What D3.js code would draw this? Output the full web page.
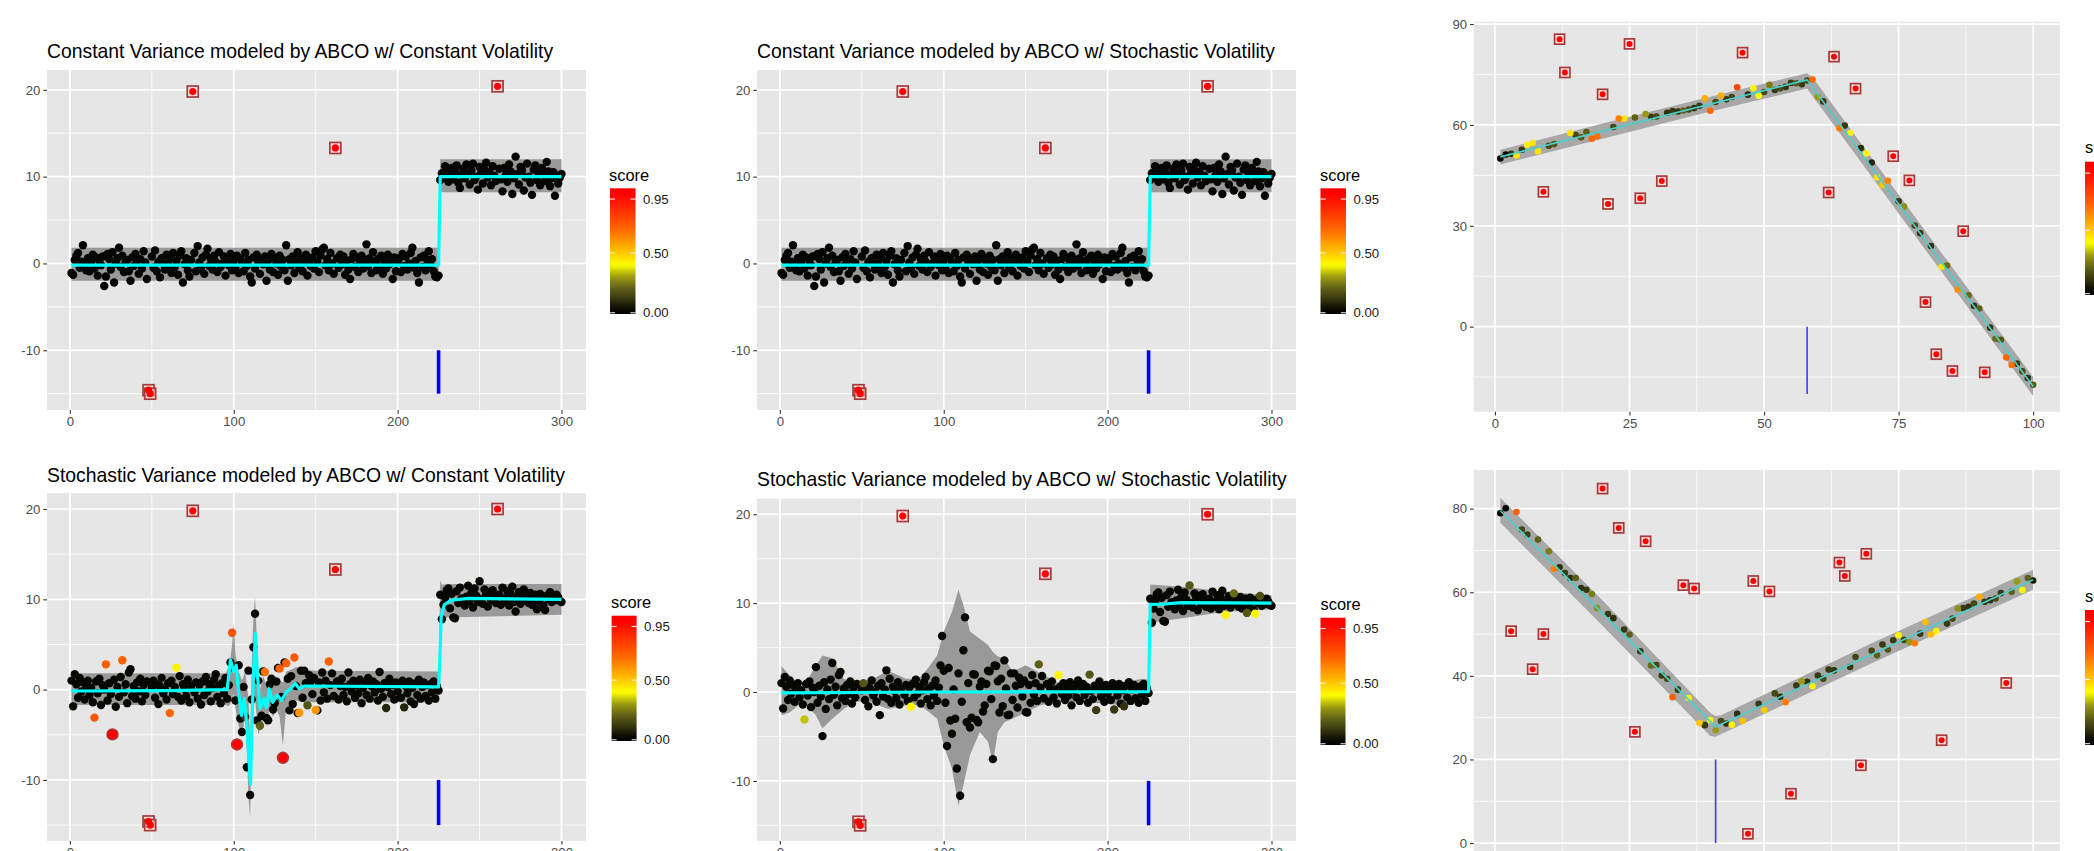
<!DOCTYPE html>
<html>
<head>
<meta charset="utf-8">
<script src="https://cdn.jsdelivr.net/npm/d3@7"></script>
<style>
  body { margin: 0; background: #fff; }
  svg { display: block; font-family: "Liberation Sans", Arial, Helvetica, sans-serif; }
</style>
</head>
<body>
<div id="main"></div>
<script>
// ---------- data: step series (x = 1..300) ----------
// constant variance series (top row)
const yConst = [
  -1.1, -1.3, 0.4, 0.9, 1.2, -0.5, 0.2, 2.1, -0.3, -0.8, 0.6, -0.9, 0.1, 1.0, -0.6, 0.7, -1.4, 0.3, -0.2, 0.8,
  -2.6, -1.5, 1.1, 0.5, -0.7, 1.3, -2.2, 0.0, 0.6, 1.8, -0.4, 0.9, -1.0, 0.2, 0.4, -0.9, -2.0, 0.7, -0.3, 1.1,
  0.3, -1.2, 0.5, -0.6, 1.4, 0.1, -1.8, -14.6, -15.0, 0.8, -0.5, 1.5, -0.9, 0.2, -1.6, 0.6, 0.0, -0.7, 1.0, -0.2,
  0.5, -1.1, 1.2, -0.4, 0.3, -1.3, 0.9, 1.4, -2.2, -0.1, 0.6, -0.8, -1.5, 0.4, 19.8, 1.2, -0.9, 2.0, 0.1, -0.6,
  0.7, -1.2, 1.0, 1.7, -0.3, 0.5, -0.7, 0.9, 0.2, -1.0, 1.3, -0.4, 0.0, 0.8, -1.4, 0.4, -0.2, 1.1, -0.8, 0.3,
  -0.5, 0.9, -1.1, 0.6, 0.1, -0.9, 1.2, -0.3, 0.4, -1.5, -2.2, 0.7, -0.6, 1.0, 0.2, -1.2, 0.5, -0.1, 0.8, -2.0,
  0.3, -0.7, 1.1, -1.0, 0.6, 0.0, -1.3, 0.9, -0.4, 0.4, -0.8, 2.1, -2.0, 0.5, -0.2, 0.8, -1.1, 0.2, 1.3, -0.5,
  0.6, -0.9, 0.1, 1.0, -1.4, 0.4, -0.3, 0.7, -0.6, 1.4, 0.2, -1.0, 0.9, 1.6, 1.8, -0.2, 0.5, -0.8, 1.2, 0.0,
  -1.2, 13.3, 0.6, -0.5, 1.0, -0.1, 0.8, -1.3, 0.3, -0.7, -1.8, 0.5, 1.1, -0.4, 0.7, -1.0, 0.2, 0.9, -0.6, 0.4,
  2.2, -0.3, 0.6, -1.1, 1.3, 0.1, -0.8, 0.5, -0.4, 0.9, -1.2, 0.3, -0.6, 1.0, -0.1, 0.4, -1.8, 0.7, -0.9, 0.2,
  0.6, -1.0, 1.1, -0.3, 0.8, -0.7, 0.0, 1.2, 1.8, -0.5, 0.3, -1.1, -2.2, 0.7, -0.4, 0.9, -0.8, 0.4, 1.4, -0.2,
  0.5, -0.9, -1.5, -1.6, -1.4, 9.6, 10.4, 9.9, 11.2, 10.8, 9.4, 10.1, 11.0, 9.7, 10.6, 11.3, 9.3, 8.7, 10.2, 10.9,
  9.8, 11.4, 10.3, 9.1, 10.7, 11.5, 9.6, 10.0, 8.5, 11.1, 10.4, 9.2, 10.8, 11.6, 9.9, 10.5, 9.0, 11.2, 10.1, 9.5,
  20.4, 10.9, 9.7, 8.3, 11.0, 10.2, 9.4, 11.4, 10.6, 8.0, 9.8, 12.3, 10.3, 9.1, 11.1, 10.7, 8.4, 9.9, 11.5, 10.0,
  9.3, 7.9, 10.8, 11.3, 9.6, 10.4, 9.0, 11.0, 10.2, 9.5, 11.7, 10.6, 8.9, 9.8, 10.5, 7.8, 10.1, 9.2, 9.9, 10.3
];
// stochastic variance series (bottom row)
const yStoch = [
  1.0, -1.85, 1.7, 0.6, -0.9, 1.3, -0.2, 0.8, -1.1, 0.4, 1.0, -0.6, 0.2, -1.4, -3.1, 0.9, -0.4, 1.2, -1.7, 0.5,
  0.0, 2.8, -1.2, 0.7, -0.5, -4.96, 1.1, -1.9, 0.3, -0.8, 1.4, 3.26, -0.3, 0.6, -1.5, 1.9, 2.26, -0.7, 0.4, -1.0,
  0.8, -0.2, 1.2, -1.3, 0.5, -0.6, 0.9, -14.6, -15.0, 0.2, 1.0, -0.9, 0.6, -1.6, 0.4, 1.3, -0.4, 0.0, -1.1, 0.7,
  -2.6, 1.0, -0.5, 0.3, 2.44, -0.8, 1.5, -1.2, 0.6, 0.1, -0.7, 1.1, -1.4, 0.4, 19.8, -0.3, 0.8, -1.0, 0.5, -1.65,
  0.9, -0.6, 1.4, -0.2, 0.6, -1.3, 0.2, 1.1, 1.7, -0.8, 0.4, -1.5, 0.7, -0.4, 1.3, -1.0, 0.5, 3.0, 6.3, 2.4,
  -1.2, -6.07, 2.7, -3.2, -4.7, 0.3, -3.0, -8.6, 2.1, -11.67, -1.1, 4.7, 8.4, -3.4, 1.0, -4.0, -2.9, 2.0, 1.96, -3.15,
  -3.4, 0.6, 1.2, -2.2, -1.5, 0.9, 2.4, 2.33, -0.8, -7.55, 3.0, 2.93, 1.2, -2.3, 1.5, -1.6, 3.56, 0.4, -2.6, -2.55,
  2.1, -0.9, 2.1, 0.7, -1.74, 1.6, 0.9, -0.5, 1.3, -2.26, -2.3, 0.8, -1.2, 1.9, -0.3, 1.0, -1.0, 3.11, 0.5, 1.8,
  -0.7, 13.3, 0.9, -1.1, 0.4, 1.2, -0.6, 0.3, -1.3, 1.9, 0.6, -0.2, 1.0, -0.9, 0.5, -0.4, 1.1, -1.5, 0.2, 0.8,
  -0.6, 1.3, -1.0, 0.4, 0.9, -0.3, 0.6, -1.2, 1.96, 0.1, -0.8, 0.7, -2.04, 0.3, 1.2, -0.5, 0.5, -1.1, 0.8, -0.2,
  0.6, -0.9, 1.0, -1.96, 0.4, -0.4, 0.9, -1.3, 0.2, -1.6, 0.7, -0.6, 1.1, -1.0, 0.3, 0.8, -0.7, 0.5, -1.2, 0.6,
  -0.3, 0.9, -1.0, 0.4, -0.1, 10.5, 7.8, 9.4, 10.2, 11.0, 11.2, 9.0, 10.6, 8.0, 7.9, 10.9, 9.6, 11.3, 10.1, 9.9,
  9.3, 10.3, 11.5, 9.8, 10.7, 9.1, 11.2, 10.4, 9.7, 12.0, 10.0, 9.5, 11.1, 10.6, 9.2, 10.8, 9.9, 11.0, 10.3, 9.6,
  20.0, 10.5, 9.4, 11.3, 10.1, 9.8, 10.9, 9.3, 10.6, 11.4, 9.7, 8.65, 10.2, 10.8, 9.5, 10.4, 11.1, 9.9, 10.3, 9.6,
  10.7, 9.4, 10.1, 10.5, 8.9, 9.8, 10.6, 10.2, 9.3, 8.8, 10.4, 10.0, 10.8, 9.7, 10.3, 9.9, 10.5, 10.2, 9.8, 9.7
];
const outStep = [48, 49, 75, 162, 261];
const cpStep = 225;

// scores that are not ~0, stochastic variance / constant volatility model
const scoreCVx = [15, 22, 26, 32, 61, 65, 99, 102, 107, 116, 119, 128, 130, 132, 137, 140, 145, 150, 158, 193, 204];
const scoreCVv = [0.74, 0.72, 0.95, 0.72, 0.7, 0.42, 0.76, 0.95, 0.12, 0.2, 0.68, 0.72, 0.95, 0.72, 0.74, 0.6, 0.18, 0.6, 0.72, 0.08, 0.08];
const ringCV = [26, 102, 130];
// stochastic variance / stochastic volatility model
const scoreSVx = [15, 51, 80, 158, 170, 189, 193, 204, 210, 250, 272, 277, 285, 290, 293];
const scoreSVv = [0.34, 0.18, 0.42, 0.2, 0.42, 0.18, 0.12, 0.12, 0.1, 0.18, 0.42, 0.22, 0.18, 0.42, 0.16];

// fitted lines and ribbons
const fitConstX = [1, 225, 226, 300];
const fitConstY = [-0.2, -0.2, 10.0, 10.0];
const bandConstX = [1, 225, 226, 300];
const bandConstLo = [-2.0, -2.0, 8.2, 8.2];
const bandConstHi = [1.8, 1.8, 12.0, 12.0];

const fitCVx = [1, 60, 96, 98, 100, 101.5, 103, 104.7, 106.4, 108, 110.2, 111.8, 113.2, 114.5, 116, 118.4, 120, 121.6,
  123.8, 126.5, 129.2, 132, 134.7, 137.4, 140, 142.8, 225, 225.8, 226.6, 228.5, 232.6, 243.5, 300];
const fitCVy = [-0.15, -0.1, 0.0, 3.3, 2.0, 2.7, -0.3, -2.85, -1.0, -4.0, -10.5, 0.5, 6.2, 1.6, -2.1, -1.0, -2.0, 0.1,
  -1.4, -0.6, -1.2, -0.3, 0.1, 0.7, 0.1, 0.4, 0.3, 3.4, 8.1, 9.4, 9.9, 10.1, 10.0];
const bandCVx = [1, 95, 97, 98, 99, 100, 101, 103, 105, 107, 108, 109, 110, 111, 112, 113, 114, 115, 116, 118,
  120, 122, 124, 126, 128, 130, 132, 135, 138, 142, 150, 225, 226, 227, 230, 300];
const bandCVlo = [-1.7, -1.7, -1.8, -1.5, -1.0, -0.5, -2.0, -4.0, -5.0, -3.0, -7.0, -12.0, -14.2, -5.0, -2.0, -1.0, -3.0, -5.0, -4.5, -3.5,
  -4.0, -2.0, -3.0, -2.2, -3.0, -6.2, -2.0, -1.6, -1.2, -1.4, -1.4, -1.4, 6.0, 7.3, 8.0, 8.3];
const bandCVhi = [1.8, 1.8, 2.5, 3.5, 5.0, 7.4, 4.0, 2.0, 1.0, 2.0, 0.5, -1.0, -6.0, 3.0, 8.0, 10.3, 6.0, 2.0, 0.0, 1.5,
  0.5, 1.8, 0.5, 1.2, 1.0, 0.8, 2.0, 2.2, 2.5, 2.2, 2.1, 2.0, 12.1, 11.6, 11.7, 11.7];

const fitSVx = [1, 100, 225, 226, 235, 245, 300];
const fitSVy = [-0.1, 0.0, 0.05, 9.85, 9.9, 10.05, 10.0];
const bandSVx = [1, 6, 14, 22, 26, 32, 39, 46, 55, 66, 77, 85, 90, 96, 100, 105, 109, 112, 116, 122,
  127, 130, 133, 137, 142, 150, 159, 169, 183, 197, 210, 221, 225, 226, 250, 270, 300];
const bandSVlo = [-2.6, -2.3, -1.1, -2.6, -4.1, -3.0, -1.9, -1.1, -1.1, -1.9, -1.5, -1.5, -2.1, -3.0, -6.0, -8.6, -12.8, -10.5, -7.1, -4.5,
  -5.6, -8.0, -4.5, -3.4, -3.0, -2.3, -1.5, -1.1, -1.1, -1.3, -1.5, -1.3, -1.2, 7.8, 8.4, 9.0, 9.3];
const bandSVhi = [2.9, 1.9, 0.4, 3.0, 4.1, 3.8, 1.5, 0.9, 1.3, 2.4, 1.5, 1.5, 2.6, 4.1, 6.8, 9.0, 11.5, 9.8, 6.8, 6.0,
  5.3, 4.5, 4.0, 3.8, 2.3, 3.0, 2.1, 1.1, 0.75, 1.1, 1.1, 1.5, 1.4, 12.1, 11.8, 11.3, 10.9];

// ---------- data: broken-line series (x = 1..100) ----------
const yLineA = [
  50.0, 51.2, 51.4, 50.9, 52.6, 54.1, 54.6, 52.2, 40.1, 53.8, 54.3, 85.5, 75.6, 57.6, 57.0, 56.3, 57.9, 55.9, 56.6, 69.1,
  36.5, 59.4, 61.9, 61.9, 84.1, 62.2, 38.2, 63.2, 62.4, 62.5, 43.3, 63.6, 64.1, 64.0, 64.3, 64.6, 65.0, 65.7, 67.9, 64.2,
  66.8, 68.7, 67.6, 68.3, 71.2, 81.5, 69.0, 70.9, 68.7, 69.8, 71.9, 70.4, 70.9, 71.3, 72.5, 72.4, 72.1, 73.2, 73.5, 68.3,
  67.0, 39.9, 80.3, 59.0, 59.8, 57.6, 70.8, 53.1, 51.5, 48.8, 44.4, 42.1, 43.4, 50.7, 37.3, 35.7, 43.5, 30.1, 27.8, 7.3,
  24.0, -8.2, 17.8, 18.2, -13.2, 11.0, 28.4, 9.3, 6.2, 5.4, -13.6, -0.3, -3.6, -3.9, -9.2, -11.4, -11.0, -13.3, -15.3, -17.3
];
const scoreLineA = [
  0.0, 0.02, 0.1, 0.45, 0.12, 0.42, 0.45, 0.45, 1, 0.15, 0.18, 1, 1, 0.45, 0.15, 0.18, 0.2, 0.7, 0.68, 1,
  1, 0.15, 0.65, 0.45, 1, 0.2, 1, 0.3, 0.12, 0.15, 1, 0.1, 0.12, 0.1, 0.2, 0.15, 0.1, 0.12, 0.55, 0.7,
  0.15, 0.55, 0.12, 0.15, 0.8, 1, 0.1, 0.42, 0.4, 0.15, 0.25, 0.12, 0.15, 0.1, 0.12, 0.18, 0.12, 0.15, 0.7, 0.3,
  0.12, 1, 1, 0.65, 0.12, 0.42, 1, 0.1, 0.42, 0.08, 0.45, 0.5, 0.65, 1, 0.12, 0.28, 1, 0.15, 0.12, 1,
  0.1, 1, 0.45, 0.22, 1, 0.62, 1, 0.22, 0.1, 0.2, 1, 0.12, 0.22, 0.18, 0.7, 0.68, 0.12, 0.15, 0.1, 0.2
];
const outLineA = [9, 12, 13, 20, 21, 25, 27, 31, 46, 62, 63, 67, 74, 77, 80, 82, 85, 87, 91];
const fitAx = [1, 58, 100];
const fitAy = [50.5, 73.4, -17.8];
const bandAx = [1, 20, 40, 58, 59, 80, 100];
const bandAlo = [48.2, 55.9, 64.0, 70.8, 68.6, 22.8, -20.6];
const bandAhi = [52.6, 60.4, 68.4, 75.4, 74.2, 28.4, -15.0];
const cpA = 58;

const yLineB = [
  78.9, 80.1, 50.7, 79.2, 75.0, 73.8, 41.6, 72.6, 50.0, 69.8, 65.6, 66.0, 64.6, 63.4, 63.4, 61.0, 60.6, 59.6, 56.2, 84.8,
  54.8, 53.8, 75.4, 51.1, 49.9, 26.6, 45.9, 72.2, 42.5, 42.6, 40.1, 39.3, 34.9, 36.7, 61.7, 34.7, 60.9, 28.7, 28.2, 29.4,
  27.0, 29.2, 28.6, 28.3, 30.9, 29.2, 2.2, 62.7, 33.3, 31.8, 60.2, 35.8, 35.0, 33.7, 11.8, 37.7, 38.7, 38.6, 37.5, 40.1,
  39.3, 41.5, 41.3, 67.1, 63.9, 42.1, 44.5, 18.6, 69.2, 46.0, 44.9, 47.5, 46.3, 48.5, 49.7, 48.6, 48.1, 47.8, 50.1, 52.9,
  49.9, 50.7, 24.6, 52.5, 53.7, 56.1, 56.2, 56.5, 57.3, 58.9, 57.7, 58.1, 58.5, 59.8, 38.3, 60.1, 62.6, 60.5, 63.4, 62.8
];
const scoreLineB = [
  0.0, 0.0, 1, 0.72, 0.15, 0.12, 1, 0.2, 1, 0.25, 0.65, 0.1, 0.12, 0.1, 0.2, 0.1, 0.12, 0.25, 0.28, 1,
  0.12, 0.1, 1, 0.12, 0.2, 1, 0.12, 1, 0.22, 0.15, 0.12, 0.15, 0.72, 0.12, 1, 0.42, 1, 0.5, 0.12, 0.42,
  0.3, 0.15, 0.1, 0.42, 0.1, 0.52, 1, 1, 0.12, 0.5, 1, 0.15, 0.1, 0.65, 1, 0.12, 0.3, 0.1, 0.42, 0.12,
  0.15, 0.12, 0.1, 1, 1, 0.12, 0.15, 1, 1, 0.15, 0.2, 0.12, 0.18, 0.12, 0.42, 0.15, 0.3, 0.65, 0.12, 0.52,
  0.52, 0.42, 1, 0.12, 0.15, 0.28, 0.12, 0.1, 0.15, 0.55, 0.12, 0.1, 0.15, 0.12, 1, 0.2, 0.3, 0.42, 0.2, 0.05
];
const outLineB = [3, 7, 9, 20, 23, 26, 28, 35, 37, 47, 48, 51, 55, 64, 65, 68, 69, 83, 95];
const fitBx = [1, 41, 100];
const fitBy = [79.5, 27.8, 63.0];
const bandBx = [1, 20, 40, 41, 42, 70, 100];
const bandBlo = [76.6, 52.0, 25.6, 25.4, 26.0, 43.0, 60.6];
const bandBhi = [82.6, 58.0, 31.2, 30.4, 30.6, 47.8, 65.4];
const cpB = 41;

// legend
const legendBreaks = [0, 0.5, 0.95];
const legendLimits = [-0.01, 1.04];

// ---------- helpers ----------
const score = d3.scaleLinear()
  .domain([0, 0.05, 0.1, 0.2, 0.3, 0.4, 0.5, 0.7, 0.9, 1.0])
  .range(["#000000", "#141406", "#30300e", "#5e5e18", "#9a9a12", "#ffff00", "#ffc800", "#ff6600", "#ff2000", "#ff0000"])
  .clamp(true);

const zip3 = (xs, a, b) => xs.map((x, i) => ({ x: x, lo: a[i], hi: b[i] }));
const zip2 = (xs, ys) => xs.map((x, i) => ({ x: x, y: ys[i] }));

function stepPoints(ys, sx, sv, rings, base) {
  return ys.map((v, i) => {
    const k = sx.indexOf(i + 1);
    const out = outStep.includes(i + 1);
    return { x: i + 1, y: v, s: out ? 1 : (k >= 0 ? sv[k] : base), out: out, ring: rings.includes(i + 1) };
  });
}
function linePoints(ys, ss, outs) {
  return ys.map((v, i) => ({ x: i + 1, y: v, s: ss[i], out: outs.includes(i + 1), ring: false }));
}

const svg = d3.select("#main").append("svg")
  .attr("width", 2094).attr("height", 851);

// gradient for colourbars
const grad = svg.append("defs").append("linearGradient")
  .attr("id", "scoreGrad").attr("x1", 0).attr("y1", 1).attr("x2", 0).attr("y2", 0);
d3.range(0, 1.0001, 0.02).forEach(t => {
  const v = legendLimits[0] + t * (legendLimits[1] - legendLimits[0]);
  grad.append("stop").attr("offset", t).attr("stop-color", score(v));
});

// ---------- panels ----------
const stepX = { xDom: [-13.95, 314.95], xMajor: [0, 100, 200, 300], xMinor: [50, 150, 250],
  yMajor: [-10, 0, 10, 20], yMinor: [-15, -5, 5, 15] };
const lineX = { xDom: [-3.95, 104.95], xMajor: [0, 25, 50, 75, 100], xMinor: [12.5, 37.5, 62.5, 87.5] };

const panels = [
  Object.assign({ id: "p1", left: 47, right: 586, top: 70, bottom: 410, yDom: [-16.88, 22.28],
    title: "Constant Variance modeled by ABCO w/ Constant Volatility", tx: 47, ty: 58,
    pts: stepPoints(yConst, [], [], [], 0.01), fit: zip2(fitConstX, fitConstY),
    band: zip3(bandConstX, bandConstLo, bandConstHi), cp: [cpStep, -10, -15], big: true,
    leg: { tx: 609, ty: 181, bx: 610, bw: 25.5, by0: 188.3, by1: 314 } }, stepX),
  Object.assign({ id: "p2", left: 757, right: 1296, top: 70, bottom: 410, yDom: [-16.88, 22.28],
    title: "Constant Variance modeled by ABCO w/ Stochastic Volatility", tx: 757, ty: 58,
    pts: stepPoints(yConst, [], [], [], 0.01), fit: zip2(fitConstX, fitConstY),
    band: zip3(bandConstX, bandConstLo, bandConstHi), cp: [cpStep, -10, -15], big: true,
    leg: { tx: 1320, ty: 181, bx: 1320.5, bw: 25.5, by0: 188.3, by1: 314 } }, stepX),
  Object.assign({ id: "p3", left: 47, right: 586, top: 493.2, bottom: 840.9, yDom: [-16.75, 21.75],
    title: "Stochastic Variance modeled by ABCO w/ Constant Volatility", tx: 47, ty: 482,
    pts: stepPoints(yStoch, scoreCVx, scoreCVv, ringCV, 0.02), fit: zip2(fitCVx, fitCVy),
    band: zip3(bandCVx, bandCVlo, bandCVhi), cp: [cpStep, -10, -15], big: true,
    leg: { tx: 611, ty: 607.5, bx: 611.6, bw: 25, by0: 615.7, by1: 741 } }, stepX),
  Object.assign({ id: "p4", left: 757, right: 1296, top: 498.7, bottom: 840.9, yDom: [-16.75, 21.75],
    title: "Stochastic Variance modeled by ABCO w/ Stochastic Volatility", tx: 757, ty: 486,
    pts: stepPoints(yStoch, scoreSVx, scoreSVv, [], 0.02), fit: zip2(fitSVx, fitSVy),
    band: zip3(bandSVx, bandSVlo, bandSVhi), cp: [cpStep, -10, -15], big: true,
    leg: { tx: 1320.5, ty: 610, bx: 1320.5, bw: 25, by0: 617.7, by1: 745 } }, stepX),
  Object.assign({ id: "p5", left: 1473.7, right: 2059.8, top: 21.7, bottom: 411.7, yDom: [-25.3, 90.7],
    yMajor: [0, 30, 60, 90], yMinor: [-15, 15, 45, 75], title: null,
    pts: linePoints(yLineA, scoreLineA, outLineA), fit: zip2(fitAx, fitAy),
    band: zip3(bandAx, bandAlo, bandAhi), cp: [cpA, 0, -20], big: false,
    leg: { tx: 2085, ty: 152.5, bx: 2085, bw: 25, by0: 161.7, by1: 295 } }, lineX),
  Object.assign({ id: "p6", left: 1473.7, right: 2059.8, top: 470, bottom: 860.8, yDom: [-4.25, 89.25],
    yMajor: [0, 20, 40, 60, 80], yMinor: [10, 30, 50, 70], title: null,
    pts: linePoints(yLineB, scoreLineB, outLineB), fit: zip2(fitBx, fitBy),
    band: zip3(bandBx, bandBlo, bandBhi), cp: [cpB, 0, 20], big: false,
    leg: { tx: 2085, ty: 601.5, bx: 2085, bw: 25, by0: 610, by1: 745 } }, lineX)
];

function drawPanel(p) {
  const x = d3.scaleLinear().domain(p.xDom).range([p.left, p.right]);
  const y = d3.scaleLinear().domain(p.yDom).range([p.bottom, p.top]);
  const g = svg.append("g").attr("id", p.id);

  svg.select("defs").append("clipPath").attr("id", "clip-" + p.id)
    .append("rect").attr("x", p.left).attr("y", p.top)
    .attr("width", p.right - p.left).attr("height", p.bottom - p.top);

  g.append("rect").attr("x", p.left).attr("y", p.top)
    .attr("width", p.right - p.left).attr("height", p.bottom - p.top)
    .attr("fill", "#e6e6e6");

  // grid
  const grid = g.append("g").attr("stroke", "#fff");
  grid.selectAll("line.xm").data(p.xMinor).join("line").attr("class", "xm")
    .attr("x1", d => x(d)).attr("x2", d => x(d)).attr("y1", p.top).attr("y2", p.bottom).attr("stroke-width", 0.8);
  grid.selectAll("line.ym").data(p.yMinor).join("line").attr("class", "ym")
    .attr("y1", d => y(d)).attr("y2", d => y(d)).attr("x1", p.left).attr("x2", p.right).attr("stroke-width", 0.8);
  grid.selectAll("line.xM").data(p.xMajor).join("line").attr("class", "xM")
    .attr("x1", d => x(d)).attr("x2", d => x(d)).attr("y1", p.top).attr("y2", p.bottom).attr("stroke-width", 1.7);
  grid.selectAll("line.yM").data(p.yMajor).join("line").attr("class", "yM")
    .attr("y1", d => y(d)).attr("y2", d => y(d)).attr("x1", p.left).attr("x2", p.right).attr("stroke-width", 1.7);

  // axes
  const styleAxis = a => {
    a.select(".domain").remove();
    a.attr("font-size", 13.2).attr("font-family", null).attr("color", "#333");
    a.selectAll("line").attr("stroke-width", 1.1);
    a.selectAll("text").attr("fill", "#4d4d4d");
  };
  g.append("g").attr("transform", `translate(${p.left},0)`)
    .call(d3.axisLeft(y).tickValues(p.yMajor).tickSize(3.7).tickPadding(2.9).tickFormat(d => String(d)))
    .call(styleAxis);
  g.append("g").attr("transform", `translate(0,${p.bottom})`)
    .call(d3.axisBottom(x).tickValues(p.xMajor).tickSize(3.7).tickPadding(2.9).tickFormat(d => String(d)))
    .call(styleAxis);

  // plot layer
  const pl = g.append("g").attr("clip-path", `url(#clip-${p.id})`);
  const area = d3.area().x(d => x(d.x)).y0(d => y(d.lo)).y1(d => y(d.hi));
  const line = d3.line().x(d => x(d.x)).y(d => y(d.y));

  pl.append("path").datum(p.band).attr("d", area)
    .attr("fill", p.big ? "#999999" : "#a8a8a8");

  const r = p.big ? 4.2 : 3.3;
  const inliers = p.pts.filter(d => !d.out);
  // low scores first so coloured points sit on top
  inliers.sort((a, b) => a.s - b.s);
  pl.selectAll("circle.pt").data(inliers).join("circle").attr("class", "pt")
    .attr("cx", d => x(d.x)).attr("cy", d => y(d.y)).attr("r", r)
    .attr("fill", d => score(d.s));

  pl.selectAll("circle.ring").data(inliers.filter(d => d.ring)).join("circle").attr("class", "ring")
    .attr("cx", d => x(d.x)).attr("cy", d => y(d.y)).attr("r", r + 1.2)
    .attr("fill", "#ff0000").attr("stroke", "#a83a3a").attr("stroke-width", 1.6);

  const sq = p.big ? 11 : 10;
  const outs = p.pts.filter(d => d.out);
  pl.selectAll("rect.out").data(outs).join("rect").attr("class", "out")
    .attr("x", d => x(d.x) - sq / 2).attr("y", d => y(d.y) - sq / 2)
    .attr("width", sq).attr("height", sq)
    .attr("fill", "rgba(255,215,215,0.55)").attr("stroke", "#a83a3a").attr("stroke-width", 1.7);
  pl.selectAll("circle.outpt").data(outs).join("circle").attr("class", "outpt")
    .attr("cx", d => x(d.x)).attr("cy", d => y(d.y)).attr("r", p.big ? 3.6 : 3)
    .attr("fill", score(1));

  // fitted line on top of the points
  pl.append("path").datum(p.fit).attr("d", line)
    .attr("fill", "none")
    .attr("stroke", p.big ? "#00ffff" : "#45d0cc")
    .attr("stroke-width", p.big ? 3.2 : 1.6)
    .attr("stroke-linejoin", "round");

  // change point marker
  pl.append("line")
    .attr("x1", x(p.cp[0])).attr("x2", x(p.cp[0]))
    .attr("y1", y(p.cp[1])).attr("y2", y(p.cp[2]))
    .attr("stroke", p.big ? "#0000ff" : "#3b3bff")
    .attr("stroke-width", p.big ? 3.6 : 1.6);

  // title
  if (p.title) {
    g.append("text").attr("x", p.tx).attr("y", p.ty)
      .attr("font-size", 19.35).attr("fill", "#000").text(p.title);
  }

  // legend
  const L = p.leg;
  const lg = g.append("g");
  lg.append("text").attr("x", L.tx).attr("y", L.ty).attr("font-size", 16.4).attr("fill", "#000").text("score");
  lg.append("rect").attr("x", L.bx).attr("y", L.by0).attr("width", L.bw).attr("height", L.by1 - L.by0)
    .attr("fill", "url(#scoreGrad)");
  const ly = d3.scaleLinear().domain(legendLimits).range([L.by1, L.by0]);
  legendBreaks.forEach(b => {
    lg.append("line").attr("x1", L.bx).attr("x2", L.bx + L.bw / 5).attr("y1", ly(b)).attr("y2", ly(b))
      .attr("stroke", "#fff").attr("stroke-width", 1);
    lg.append("line").attr("x1", L.bx + L.bw * 4 / 5).attr("x2", L.bx + L.bw).attr("y1", ly(b)).attr("y2", ly(b))
      .attr("stroke", "#fff").attr("stroke-width", 1);
    lg.append("text").attr("x", L.bx + L.bw + 7.5).attr("y", ly(b)).attr("dy", "0.35em")
      .attr("font-size", 13.2).attr("fill", "#1a1a1a").text(d3.format(".2f")(b));
  });
}

panels.forEach(drawPanel);
</script>
</body>
</html>
